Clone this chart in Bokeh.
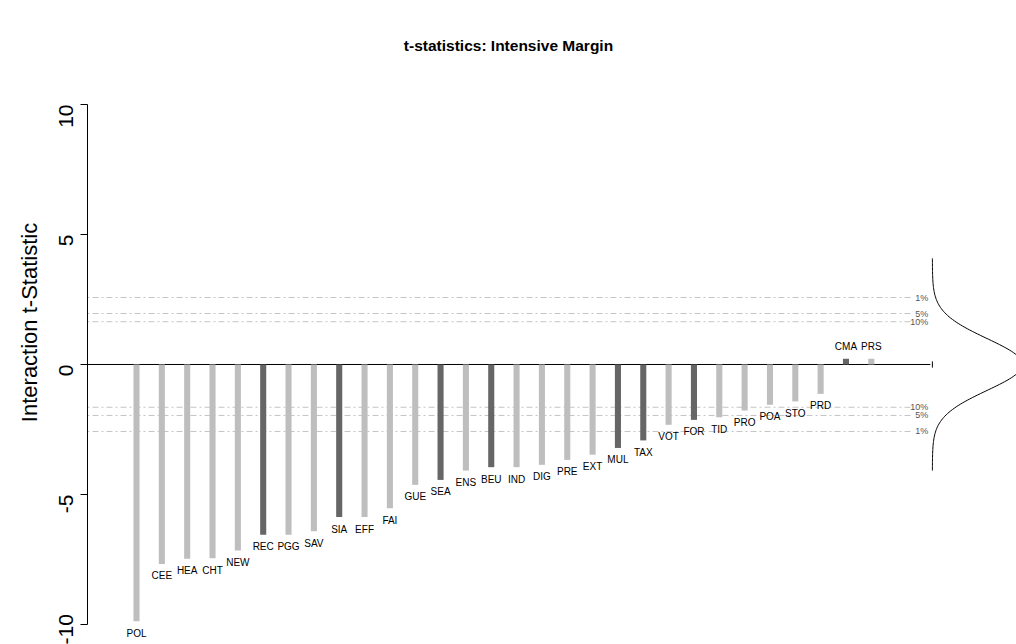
import math
from bokeh.plotting import figure
from bokeh.models import Range1d, FixedTicker, Label, ColumnDataSource, PrintfTickFormatter
from bokeh.core.properties import value
from bokeh.embed import file_html
from bokeh.resources import INLINE

# ---- data ----
labels = ["POL", "CEE", "HEA", "CHT", "NEW", "REC", "PGG", "SAV", "SIA", "EFF",
          "FAI", "GUE", "SEA", "ENS", "BEU", "IND", "DIG", "PRE", "EXT", "MUL",
          "TAX", "VOT", "FOR", "TID", "PRO", "POA", "STO", "PRD", "CMA", "PRS"]
tstats = [-9.88, -7.67, -7.47, -7.45, -7.15, -6.55, -6.55, -6.41, -5.87, -5.87,
          -5.53, -4.63, -4.44, -4.08, -3.95, -3.95, -3.86, -3.67, -3.47, -3.21,
          -2.92, -2.32, -2.13, -2.03, -1.77, -1.55, -1.42, -1.13, 0.22, 0.22]
dark = ["REC", "SIA", "SEA", "BEU", "MUL", "TAX", "FOR", "CMA"]
crit_values = [2.576, 1.960, 1.645]
crit_labels = ["1%", "5%", "10%"]
y_ticks = [-10, -5, 0, 5, 10]

FONT = "Liberation Sans"
LIGHT = "#BEBEBE"
DARK = "#666666"

n = len(labels)
xs = list(range(1, n + 1))
colors = [DARK if l in dark else LIGHT for l in labels]

W, H = 1016, 644
LEFT = 87
p = figure(width=W, height=H, output_backend="svg", toolbar_location=None,
           x_range=Range1d(-0.934, 35.73), y_range=Range1d(-10.77, 14.0),
           x_axis_type=None, min_border_left=LEFT, min_border_right=0,
           min_border_top=0, min_border_bottom=0)
p.outline_line_color = None
p.xgrid.visible = False
p.ygrid.visible = False
p.background_fill_color = "white"
p.border_fill_color = "white"

ax = p.yaxis[0]
ax.bounds = (-10, 10)
ax.ticker = FixedTicker(ticks=y_ticks)
ax.formatter = PrintfTickFormatter(format="%d")
ax.minor_tick_line_color = None
ax.major_tick_in = 0
ax.major_tick_out = 7
ax.axis_line_color = "black"
ax.major_tick_line_color = "black"
ax.major_label_orientation = math.pi / 2
ax.major_label_text_font = FONT
ax.major_label_text_font_size = "21px"
ax.major_label_text_color = "black"
ax.major_label_standoff = 14
ax.axis_label = "Interaction t-Statistic"
ax.axis_label_text_font = FONT
ax.axis_label_text_font_size = "22px"
ax.axis_label_text_font_style = "normal"
ax.axis_label_text_color = "black"
ax.axis_label_standoff = 8

# threshold lines
x_left = -0.934
thr_y = [c for c in crit_values] + [-c for c in crit_values]
thr_lab = crit_labels + crit_labels
p.segment(x0=[x_left] * len(thr_y), x1=[31.62] * len(thr_y), y0=thr_y, y1=thr_y,
          line_color="#C4C4C4", line_width=1, line_dash="2 3 6 3")
p.text(x=[32.25] * len(thr_y), y=thr_y, text=thr_lab, text_align="right",
       text_baseline="middle", text_font=value(FONT), text_font_size="9px",
       text_color="#555555")

# zero line
p.segment(x0=[x_left], x1=[32.33], y0=[0], y1=[0], line_color="black", line_width=1)
p.segment(x0=[32.41], x1=[32.41], y0=[-0.12], y1=[0.12], line_color="black", line_width=1)

# bars
src = ColumnDataSource(dict(x=xs, top=tstats, color=colors, lab=labels,
                            off=[12 if v < 0 else -12 for v in tstats]))
p.vbar(x="x", top="top", bottom=0, width=0.24, fill_color="color",
       line_color=None, source=src)
p.text(x="x", y="top", text="lab", y_offset="off", source=src,
       text_align="center", text_baseline="middle", text_font=value(FONT),
       text_font_size="10px", text_color="black")

# normal density reference curve (rotated) at the right
base_x = 32.41
scale = 8.9
m = 161
cy = [-4.08 + 8.16 * i / (m - 1) for i in range(m)]
cx = [base_x + scale * math.exp(-0.5 * t * t) / math.sqrt(2 * math.pi) for t in cy]
p.line(cx, cy, line_color="black", line_width=1)

# title (screen x is measured from the frame's left edge)
p.add_layout(Label(x=508 - LEFT, y=H - 45, x_units="screen", y_units="screen",
                   text="t-statistics: Intensive Margin", text_align="center",
                   text_baseline="middle", text_font=FONT, text_font_size="15.5px",
                   text_font_style="bold", text_color="black"))

open("out.html", "w").write(file_html(p, INLINE))
